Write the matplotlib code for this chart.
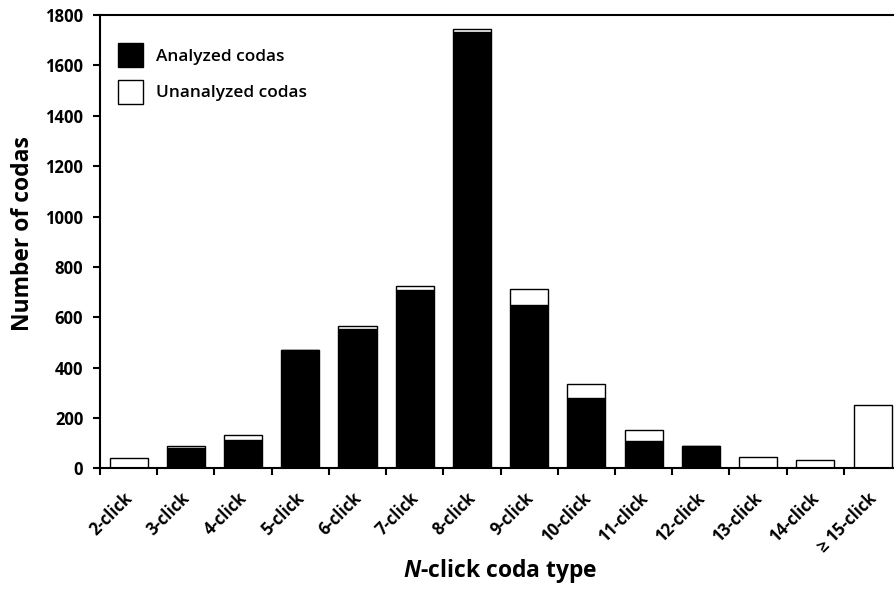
import numpy as np
import matplotlib
matplotlib.use("Agg")
import matplotlib.pyplot as plt
import matplotlib.transforms as mtransforms
from matplotlib.patches import Patch

plt.rcParams['font.family'] = ['Open Sans', 'DejaVu Sans']
plt.rcParams['mathtext.fontset'] = 'custom'
plt.rcParams['mathtext.it'] = 'Open Sans:italic:bold'

# ---- data ----
categories = ['2-click', '3-click', '4-click', '5-click', '6-click', '7-click', '8-click',
              '9-click', '10-click', '11-click', '12-click', '13-click', '14-click', '\u2265 15-click']
analyzed = [0, 80, 114, 470, 555, 707, 1731, 649, 279, 109, 88, 0, 0, 0]
unanalyzed = [40, 9, 19, 2, 9, 16, 12, 63, 57, 42, 0, 44, 33, 253]
yticks = [0, 200, 400, 600, 800, 1000, 1200, 1400, 1600, 1800]

fig = plt.figure(figsize=(8.95, 5.91), dpi=100)
ax = fig.add_axes([0.1117, 0.2073, 0.8952, 0.7673])

x = np.arange(len(categories))
w = 0.665
ax.bar(x, analyzed, w, color='black', edgecolor='black', linewidth=1.0)
ax.bar(x, unanalyzed, w, bottom=analyzed, color='white', edgecolor='black', linewidth=1.0)

ax.set_xlim(-0.5, len(categories) - 0.5)
ax.set_ylim(0, 1800)
ax.set_yticks(yticks)
ax.set_yticklabels([str(v) for v in yticks], fontweight='bold', fontsize=12)

# tick marks sit between categories, labels at the centres
ax.set_xticks(x)
ax.set_xticklabels(categories, rotation=45, ha='right', va='top', rotation_mode='anchor',
                   fontweight='bold', fontsize=12)
ax.tick_params(axis='x', which='major', length=0, pad=15)
shift = mtransforms.ScaledTranslation(-5 / 100, 0, fig.dpi_scale_trans)
for lab in ax.get_xticklabels():
    lab.set_transform(lab.get_transform() + shift)
ax.set_xticks(np.arange(-0.5, len(categories) - 1), minor=True)
ax.tick_params(axis='x', which='minor', length=5, width=1.5, direction='out')
ax.tick_params(axis='y', length=5, width=1.5, direction='out', pad=7)

for s in ['left', 'bottom', 'top']:
    ax.spines[s].set_linewidth(1.5)
ax.spines['right'].set_visible(False)

ax.set_ylabel('Number of codas', fontsize=16.5, fontweight='bold')
ax.yaxis.set_label_coords(-0.081, 0.518)
ax.set_xlabel(r'$\mathit{N}$-click coda type', fontsize=16.5, fontweight='bold')
ax.xaxis.set_label_coords(0.5, -0.195)

handles = [Patch(facecolor='black', edgecolor='black', linewidth=1.0),
           Patch(facecolor='white', edgecolor='black', linewidth=1.0)]
ax.legend(handles, ['Analyzed codas', 'Unanalyzed codas'], loc='upper left', frameon=False,
          prop={'size': 12.4, 'weight': 'semibold'}, handlelength=1.45, handleheight=1.75,
          handletextpad=0.7, labelspacing=0.75, borderaxespad=0, bbox_to_anchor=(0.0145, 0.953))

fig.savefig('out.png', dpi=100)
